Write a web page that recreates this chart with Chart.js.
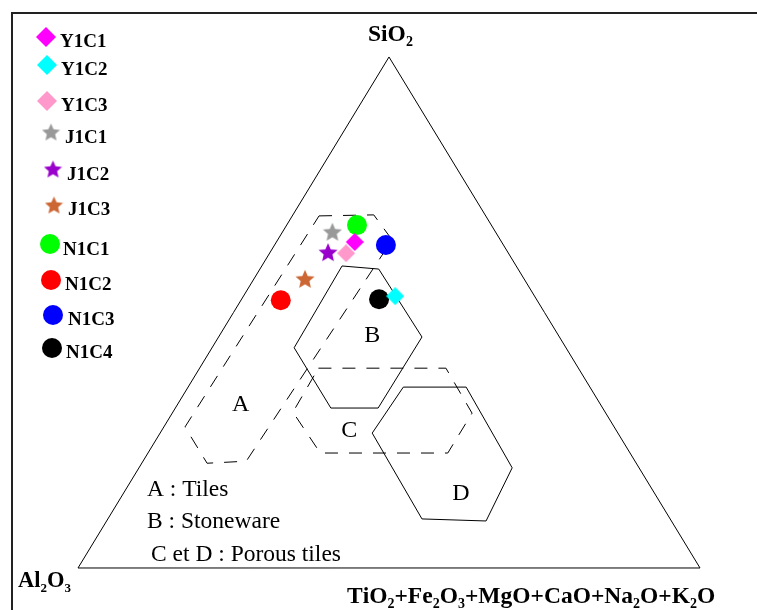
<!DOCTYPE html>
<html lang="en">
<head>
  <meta charset="UTF-8">
  <title>SiO2 - Al2O3 - fondants</title>
  <style>
    html, body { margin: 0; padding: 0; background: #fff; }
    canvas { display: block; }
  </style>
</head>
<body>
  <canvas id="chart" width="757" height="610"></canvas>
  <script src="https://cdn.jsdelivr.net/npm/chart.js@4/dist/chart.umd.min.js"></script>
  <script>
    // compositions in % : SiO2 / Al2O3 / TiO2+Fe2O3+MgO+CaO+Na2O+K2O
    const samples = ['Y1C1', 'Y1C2', 'Y1C3', 'J1C1', 'J1C2', 'J1C3', 'N1C1', 'N1C2', 'N1C3', 'N1C4']
    const sio2  = [63.8, 53.2, 61.6, 65.8, 61.8, 56.6, 67.1, 52.4, 63.2, 52.6]
    const al2o3 = [23.6, 22.4, 26.1, 26.2, 28.9, 35.2, 21.6, 41.2, 18.9, 25.3]
    const flux  = [12.6, 24.4, 12.3, 8.0, 9.3, 8.2, 11.3, 6.4, 17.9, 22.1]

    // domain outlines, [SiO2, Al2O3, fluxes] for each corner
    const zoneA = [[68.9, 26.8, 4.3], [69.1, 17.9, 13.0], [64.2, 17.4, 18.4], [20.9, 62.5, 16.6], [20.5, 69.0, 10.5], [27.6, 69.0, 3.4]]
    const zoneB = [[59.1, 28.0, 12.9], [58.5, 22.4, 19.1], [45.2, 22.1, 32.7], [31.3, 36.1, 32.6], [31.3, 43.7, 25.0], [43.1, 43.7, 13.2]]
    const zoneC = [[39.1, 41.8, 19.1], [39.1, 21.3, 39.6], [30.3, 21.5, 48.2], [22.5, 29.3, 48.2], [22.5, 49.8, 27.7], [30.5, 50.2, 19.3]]
    const zoneD = [[35.4, 30.0, 34.6], [35.4, 19.9, 44.7], [19.6, 20.4, 60.0], [9.2, 29.8, 61.0], [9.6, 39.9, 50.5], [26.4, 39.5, 34.1]]
    const corners = [[100, 0, 0], [0, 100, 0], [0, 0, 100]]

    const zoneLabels = ['A', 'B', 'C', 'D']
    const zoneCentres = [[32.3, 57.7, 10.0], [45.8, 29.8, 24.4], [27.2, 42.8, 30.0], [14.9, 31.0, 54.1]]
    const notes = ['A : Tiles', 'B : Stoneware', 'C et D : Porous tiles']

    // ternary -> cartesian (SiO2 at the top, Al2O3 left, fluxes right)
    function toXY(s, a, f) {
      const t = s + a + f
      const y = s / t
      return { x: f / t + y / 2, y: y }
    }
    const outline = zone => zone.concat([zone[0]]).map(p => toXY(p[0], p[1], p[2]))

    function starImage(size, color) {
      const c = document.createElement('canvas')
      c.width = c.height = size
      const g = c.getContext('2d')
      const R = size / 2, r = R * 0.46
      g.beginPath()
      for (let i = 0; i < 10; i++) {
        const ang = -Math.PI / 2 + i * Math.PI / 5
        const rr = i % 2 ? r : R
        g.lineTo(R + rr * Math.cos(ang), R + 0.095 * R + rr * Math.sin(ang))
      }
      g.closePath()
      g.fillStyle = color
      g.fill()
      return c
    }

    function diamondImage(size, color) {
      const c = document.createElement('canvas')
      c.width = c.height = size
      const g = c.getContext('2d')
      const h = size / 2
      g.beginPath()
      g.moveTo(h, 0)
      g.lineTo(size, h)
      g.lineTo(h, size)
      g.lineTo(0, h)
      g.closePath()
      g.fillStyle = color
      g.fill()
      return c
    }

    const colors = ['#ff00ff', '#00ffff', '#ff99cc', '#999999', '#9900cc', '#cc6633', '#00ff00', '#ff0000', '#0000ff', '#000000']
    const shapes = ['diamond', 'diamond', 'diamond', 'star', 'star', 'star', 'circle', 'circle', 'circle', 'circle']

    function marker(i, size) {
      if (shapes[i] === 'star') return starImage(size, colors[i])
      if (shapes[i] === 'diamond') return diamondImage(size, colors[i])
      return 'circle'
    }

    const datasets = samples.map((name, i) => ({
      label: name,
      data: [toXY(sio2[i], al2o3[i], flux[i])],
      pointStyle: marker(i, shapes[i] === 'star' ? 20 : 18),
      pointRadius: 10,
      backgroundColor: colors[i],
      borderColor: colors[i],
      borderWidth: 0,
      order: name === 'Y1C3' ? -1 : 0
    }))

    const lineSet = (pts, dash) => ({
      data: pts,
      showLine: true,
      borderColor: '#000',
      borderWidth: 1,
      borderDash: dash,
      pointRadius: 0,
      fill: false,
      order: 1
    })
    datasets.push(lineSet(outline(corners), []))
    datasets.push(lineSet(outline(zoneA), [13, 11]))
    datasets.push(lineSet(outline(zoneB), []))
    datasets.push(lineSet(outline(zoneC), [13, 11]))
    datasets.push(lineSet(outline(zoneD), []))

    // text with subscript digits (SiO2, Al2O3 ...)
    function chem(ctx, str, x, y, size) {
      let cx = x
      for (const ch of str) {
        const sub = /\d/.test(ch)
        ctx.font = 'bold ' + (sub ? Math.round(size * 0.58) : size) + 'px "Liberation Serif"'
        ctx.fillText(ch, cx, sub ? y + size * 0.22 : y)
        cx += ctx.measureText(ch).width
      }
    }

    const legendPos = [[46, 37], [47, 65], [47, 101], [51, 132], [53, 169], [54, 205], [50, 244], [51, 280], [53, 315], [52, 348]]
    const legendText = [[60, 47], [61, 75], [61, 111], [65, 143], [67, 180], [68, 215], [63, 255], [65, 290], [68, 325], [66, 358]]

    const decor = {
      id: 'decor',
      beforeDraw(chart) {
        const ctx = chart.ctx
        ctx.save()
        ctx.fillStyle = '#fff'
        ctx.fillRect(0, 0, chart.width, chart.height)
        ctx.strokeStyle = '#222'
        ctx.lineWidth = 2
        ctx.beginPath()
        ctx.moveTo(12, chart.height)
        ctx.lineTo(12, 13)
        ctx.lineTo(chart.width, 13)
        ctx.stroke()
        ctx.restore()
      },
      afterDraw(chart) {
        const ctx = chart.ctx
        const xs = chart.scales.x, ys = chart.scales.y
        ctx.save()
        ctx.fillStyle = '#000'
        ctx.textBaseline = 'alphabetic'

        chem(ctx, 'SiO2', 368, 41, 23.5)
        chem(ctx, 'Al2O3', 18, 587, 22.5)
        chem(ctx, 'TiO2+Fe2O3+MgO+CaO+Na2O+K2O', 347, 603, 23.5)

        ctx.font = '24px "Liberation Serif"'
        ctx.textAlign = 'center'
        zoneLabels.forEach((t, i) => {
          const p = toXY(zoneCentres[i][0], zoneCentres[i][1], zoneCentres[i][2])
          ctx.fillText(t, xs.getPixelForValue(p.x), ys.getPixelForValue(p.y) + 8)
        })

        ctx.textAlign = 'left'
        ctx.font = '23.5px "Liberation Serif"'
        ctx.fillText(notes[0], 147, 496)
        ctx.fillText(notes[1], 147, 528)
        ctx.fillText(notes[2], 151, 561)

        // legend
        samples.forEach((name, i) => {
          const [mx, my] = legendPos[i]
          ctx.fillStyle = colors[i]
          if (shapes[i] === 'circle') {
            ctx.beginPath()
            ctx.arc(mx, my, 10, 0, Math.PI * 2)
            ctx.fill()
          } else {
            const s = shapes[i] === 'star' ? 19 : 20
            ctx.drawImage(marker(i, s), mx - s / 2, my - s / 2)
          }
          ctx.fillStyle = '#000'
          ctx.font = 'bold 19px "Liberation Serif"'
          ctx.fillText(name, legendText[i][0], legendText[i][1])
        })
        ctx.restore()
      }
    }

    new Chart(document.getElementById('chart'), {
      type: 'scatter',
      data: { datasets: datasets },
      options: {
        responsive: false,
        animation: false,
        events: [],
        layout: { padding: 0, autoPadding: false },
        plugins: { legend: { display: false }, tooltip: { enabled: false } },
        scales: {
          x: { type: 'linear', display: false, min: -0.1254, max: 1.0916 },
          y: { type: 'linear', display: false, min: -0.0822, max: 1.1115 }
        }
      },
      plugins: [decor]
    })
  </script>
</body>
</html>
